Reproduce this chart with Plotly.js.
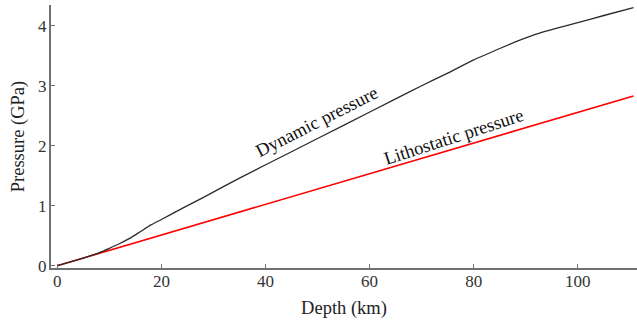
<!DOCTYPE html>
<html>
<head>
<meta charset="utf-8">
<script src="https://cdn.plot.ly/plotly-3.0.1.min.js"></script>
<style>
  html, body { margin: 0; padding: 0; background: #ffffff; }
  #chart { width: 637px; height: 323px; }
</style>
</head>
<body>
<div id="chart"></div>
<script>
// Depth (km) along the profile
const depthDynamic = [0, 2, 4, 6, 8, 10, 12, 14, 16, 18, 20, 24, 28, 35, 45, 55, 65, 70, 75, 80, 85, 88, 92, 96, 100, 105, 110.7];
// Dynamic pressure (GPa)
const dynamicPressure = [0, 0.05, 0.10, 0.155, 0.215, 0.29, 0.37, 0.46, 0.57, 0.68, 0.77, 0.955, 1.135, 1.46, 1.90, 2.34, 2.78, 3.00, 3.21, 3.43, 3.62, 3.73, 3.86, 3.96, 4.05, 4.17, 4.30];
// Lithostatic pressure (GPa)
const depthLitho = [0, 110.7];
const lithoPressure = [0, 2.83];

const xTicks = [0, 20, 40, 60, 80, 100];
const yTicks = [0, 1, 2, 3, 4];

const serif = "'Liberation Serif', 'Times New Roman', serif";

const traces = [
  {
    x: depthLitho, y: lithoPressure, type: 'scatter', mode: 'lines',
    line: { color: '#ff0000', width: 1.6 }, hoverinfo: 'skip'
  },
  {
    x: depthDynamic, y: dynamicPressure, type: 'scatter', mode: 'lines',
    line: { color: '#2b2b2b', width: 1.3, shape: 'spline', smoothing: 0.5 }, hoverinfo: 'skip'
  }
];

const axisCommon = {
  showgrid: false, zeroline: false, showline: true,
  linecolor: '#707070', linewidth: 2,
  ticks: 'inside', ticklen: 4, tickwidth: 1, tickcolor: '#707070',
  tickfont: { family: serif, size: 17, color: '#333333' }
};

const layout = {
  width: 637, height: 323,
  margin: { l: 51, r: 0, t: 5, b: 55 },
  paper_bgcolor: '#ffffff', plot_bgcolor: '#ffffff',
  showlegend: false,
  xaxis: Object.assign({}, axisCommon, {
    range: [-1.21, 111.37], tickvals: xTicks, ticktext: xTicks.map(String),
    ticklabelstandoff: -3,
    title: { text: 'Depth (km)', font: { family: serif, size: 18.5, color: '#222222' }, standoff: 11 }
  }),
  yaxis: Object.assign({}, axisCommon, {
    range: [-0.038, 4.345], tickvals: yTicks, ticktext: yTicks.map(String),
    ticklabelstandoff: -1,
    title: { text: 'Pressure (GPa)', font: { family: serif, size: 18.5, color: '#222222' }, standoff: 9 }
  }),
  annotations: [
    {
      x: 49.8, y: 2.39, xref: 'x', yref: 'y', text: 'Dynamic pressure',
      showarrow: false, textangle: -27,
      font: { family: serif, size: 18.5, color: '#111111' }
    },
    {
      x: 76.1, y: 2.15, xref: 'x', yref: 'y', text: 'Lithostatic pressure',
      showarrow: false, textangle: -18,
      font: { family: serif, size: 18.5, color: '#111111' }
    }
  ]
};

Plotly.newPlot('chart', traces, layout, { staticPlot: true, displayModeBar: false });
</script>
</body>
</html>
